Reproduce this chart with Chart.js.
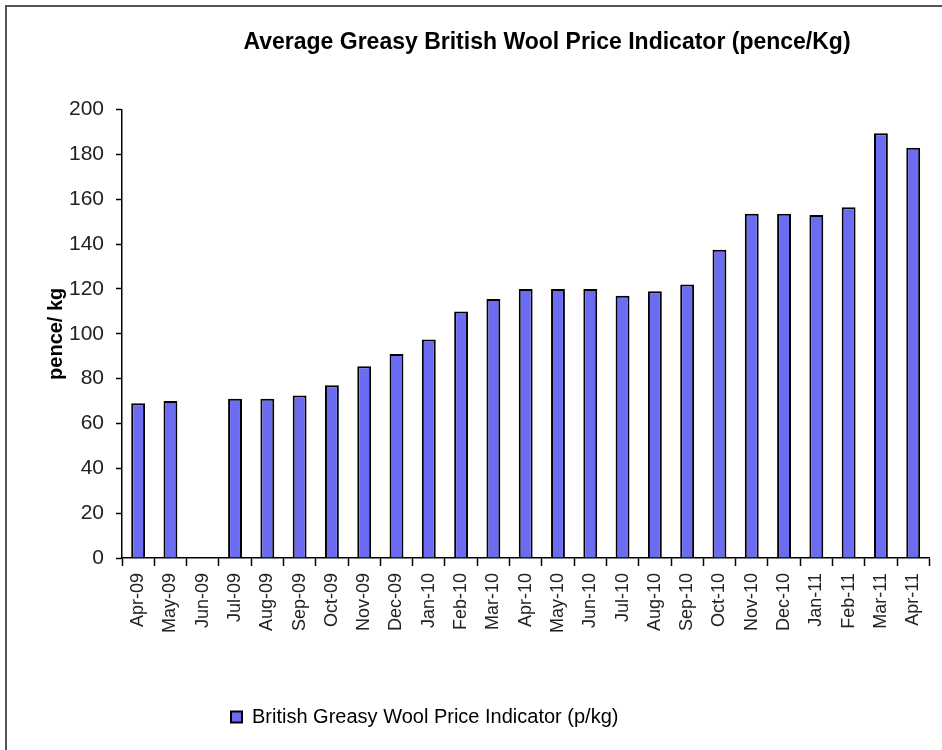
<!DOCTYPE html>
<html>
<head>
<meta charset="utf-8">
<title>British Wool Price</title>
<script src="https://cdn.jsdelivr.net/npm/chart.js@4.4.1/dist/chart.umd.min.js"></script>
<style>
    html, body { margin: 0; padding: 0; background: #fff; overflow: hidden; }
    #wrap { position: relative; width: 942px; height: 750px; overflow: hidden; }
    #frame { position: absolute; left: 5px; top: 5px; width: 1000px; height: 800px; border: 2px solid #555; }
    #woolChart { position: absolute; left: 0; top: 0; }
</style>
</head>
<body>
<div id="wrap">
    <div id="frame"></div>
    <canvas id="woolChart" width="942" height="750"></canvas>
</div>
<script>
// monthly price indicator, pence per kg (no figure for Jun-09)
const months = ["Apr-09","May-09","Jun-09","Jul-09","Aug-09","Sep-09","Oct-09","Nov-09","Dec-09",
    "Jan-10","Feb-10","Mar-10","Apr-10","May-10","Jun-10","Jul-10","Aug-10","Sep-10","Oct-10",
    "Nov-10","Dec-10","Jan-11","Feb-11","Mar-11","Apr-11"];
const woolPrice = [69, 70, null, 71, 71, 72.5, 77, 85.5, 91,
    97.5, 110, 115.5, 120, 120, 120, 117, 119, 122, 137.5,
    153.5, 153.5, 153, 156.5, 189.5, 183];
const yMin = 0;
const yMax = 200;
const yStep = 20;

const fontFamily = "'Liberation Sans', Arial, sans-serif";

// title sits right of the canvas centre, legend starts left of it
const titleCentre = 547;
const legendLeft = 227;

const shiftBlocks = {
    id: 'shiftBlocks',
    afterLayout(chart) {
        const t = chart.titleBlock;
        const dx = titleCentre - (t.left + t.right) / 2;
        t.left += dx;
        t.right += dx;

        const lg = chart.legend;
        const w = lg.right - lg.left;
        lg.left = legendLeft;
        lg.right = legendLeft + w;
    }
};

new Chart(document.getElementById('woolChart'), {
    type: 'bar',
    data: {
        labels: months,
        datasets: [{
            label: 'British Greasy Wool Price Indicator (p/kg)',
            data: woolPrice,
            backgroundColor: '#6c6cf2',
            borderColor: '#000',
            borderWidth: 2,
            borderSkipped: 'bottom',
            barPercentage: 0.86,
            categoryPercentage: 0.5
        }]
    },
    options: {
        responsive: false,
        animation: false,
        events: [],
        layout: {
            padding: { left: 0, right: 9, top: 0, bottom: 13 }
        },
        plugins: {
            title: {
                display: true,
                text: 'Average Greasy British Wool Price Indicator (pence/Kg)',
                color: '#000',
                font: { family: fontFamily, size: 23, weight: 'bold' },
                padding: { top: 29, bottom: 53 }
            },
            legend: {
                position: 'bottom',
                align: 'start',
                labels: {
                    boxWidth: 11,
                    boxHeight: 11,
                    padding: 4,
                    color: '#000',
                    font: { family: fontFamily, size: 20 }
                }
            },
            tooltip: { enabled: false }
        },
        scales: {
            x: {
                grid: {
                    display: true,
                    offset: true,
                    drawOnChartArea: false,
                    tickLength: 8,
                    tickColor: '#000',
                    tickWidth: 1.5
                },
                border: { color: '#000', width: 1.5 },
                ticks: {
                    color: '#222',
                    font: { family: fontFamily, size: 18 },
                    minRotation: 90,
                    maxRotation: 90,
                    autoSkip: false,
                    padding: 7
                },
                afterFit(scale) {
                    scale.height = 145;
                }
            },
            y: {
                min: yMin,
                max: yMax,
                ticks: {
                    stepSize: yStep,
                    color: '#222',
                    font: { family: fontFamily, size: 21 },
                    padding: 12
                },
                grid: {
                    drawOnChartArea: false,
                    tickLength: 6,
                    tickColor: '#000',
                    tickWidth: 1.5
                },
                border: { color: '#000', width: 1.5 },
                title: {
                    display: true,
                    text: 'pence/ kg',
                    color: '#000',
                    font: { family: fontFamily, size: 20, weight: 'bold' },
                    padding: { top: 44, bottom: 0 }
                },
                afterFit(scale) {
                    scale.width = 122;
                }
            }
        }
    },
    plugins: [shiftBlocks]
});
</script>
</body>
</html>
